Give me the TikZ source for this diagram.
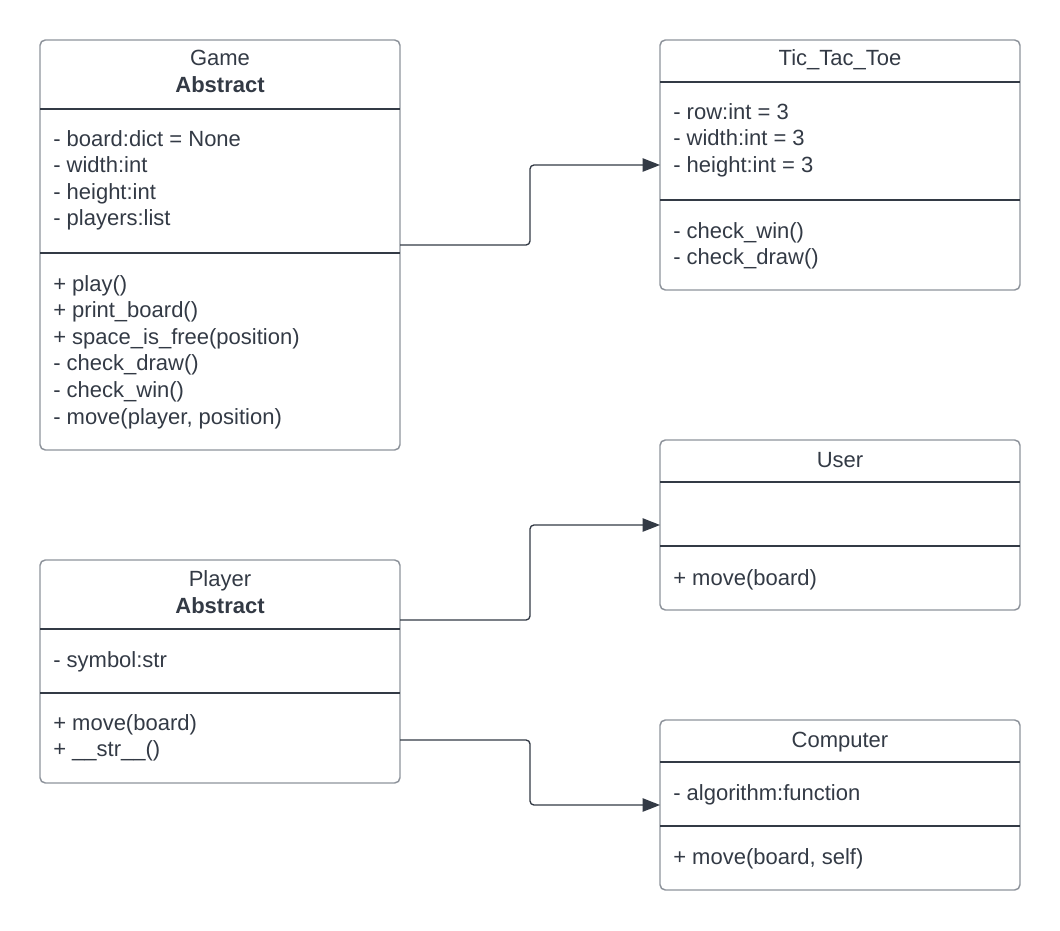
\documentclass[tikz,border=0pt]{standalone}
\usepackage{fontspec}
\setmainfont{Liberation Sans}
\usepackage{xcolor}
\usetikzlibrary{positioning, arrows.meta, calc}
\definecolor{umlink}{HTML}{333A45}
\definecolor{umlframe}{HTML}{8E939B}

\begin{document}
\begin{tikzpicture}[x=0.75pt, y=-0.75pt, font=\fontsize{16.5}{20}\selectfont,
  classbox/.style={draw=umlframe, line width=1.1pt, rounded corners=4pt,
    minimum width=270pt, inner sep=0pt, outer sep=0pt},
  divider/.style={draw=umlink, line width=0.9pt},
  title/.style={anchor=base, text=umlink, inner sep=0pt},
  member/.style={anchor=base west, text=umlink, inner sep=0pt},
  assoc/.style={draw=umlink, line width=1pt, rounded corners=3pt,
    -{Triangle[length=13pt, width=10pt]}}]
\useasboundingbox (0,0) rectangle (1060,931);

% class boxes
\node[classbox, minimum height=307.5pt] (game) at (220,245) {};
\node[classbox, minimum height=187.5pt] (tic) at (840,165) {};
\node[classbox, minimum height=127.5pt] (user) at (840,525) {};
\node[classbox, minimum height=167.25pt] (player) at (220,671.5) {};
\node[classbox, minimum height=127.5pt] (computer) at (840,805) {};

% compartments
\draw[divider] ($(game.north west)+(0,69)$) -- ($(game.north east)+(0,69)$);
\draw[divider] ($(game.north west)+(0,213)$) -- ($(game.north east)+(0,213)$);
\draw[divider] ($(tic.north west)+(0,42)$) -- ($(tic.north east)+(0,42)$);
\draw[divider] ($(tic.north west)+(0,160)$) -- ($(tic.north east)+(0,160)$);
\draw[divider] ($(user.north west)+(0,42)$) -- ($(user.north east)+(0,42)$);
\draw[divider] ($(user.north west)+(0,106)$) -- ($(user.north east)+(0,106)$);
\draw[divider] ($(player.north west)+(0,69)$) -- ($(player.north east)+(0,69)$);
\draw[divider] ($(player.north west)+(0,133)$) -- ($(player.north east)+(0,133)$);
\draw[divider] ($(computer.north west)+(0,42)$) -- ($(computer.north east)+(0,42)$);
\draw[divider] ($(computer.north west)+(0,106)$) -- ($(computer.north east)+(0,106)$);

% titles
\node[title] (gamename) at (220,66) {Game};
\node[title] (gamekind) at (220,93) {\textbf{Abstract}};
\node[title] (ticname) at (840,66) {Tic\_Tac\_Toe};
\node[title] (username) at (840,467) {User};
\node[title] (playername) at (220,586) {Player};
\node[title] (playerkind) at (220,613) {\textbf{Abstract}};
\node[title] (computername) at (840,747) {Computer};

% members
\foreach \txt [count=\i] in {- board:dict = None, - width:int, - height:int, - players:list}
  \node[member] (gattr\i) at (53,146+26.6*\i-26.6) {\txt};
\foreach \txt [count=\i] in {+ play(), + print\_board(), + space\_is\_free(position),
    - check\_draw(), - check\_win(), {- move(player, position)}}
  \node[member] (gop\i) at (53,291+26.6*\i-26.6) {\txt};
\foreach \txt [count=\i] in {- row:int = 3, - width:int = 3, - height:int = 3}
  \node[member] (tattr\i) at (673,119+26.6*\i-26.6) {\txt};
\foreach \txt [count=\i] in {- check\_win(), - check\_draw()}
  \node[member] (top\i) at (673,238+26.6*\i-26.6) {\txt};
\node[member] (uop1) at (673,585) {+ move(board)};
\node[member] (pattr1) at (53,667) {- symbol:str};
\foreach \txt [count=\i] in {+ move(board), + \_\_str\_\_()}
  \node[member] (pop\i) at (53,730+26.6*\i-26.6) {\txt};
\node[member] (cattr1) at (673,800) {- algorithm:function};
\node[member] (cop1) at (673,864) {+ move(board, self)};

% connectors
\coordinate (bend) at (530,0);
\coordinate (playeruser) at ($(player.north east)+(0,60)$);
\coordinate (playercomp) at ($(player.north east)+(0,180)$);
\draw[assoc] (game.east) -- (game.east -| bend) |- (tic.west);
\draw[assoc] (playeruser) -- (playeruser -| bend) |- (user.west);
\draw[assoc] (playercomp) -- (playercomp -| bend) |- (computer.west);
\end{tikzpicture}
\end{document}
